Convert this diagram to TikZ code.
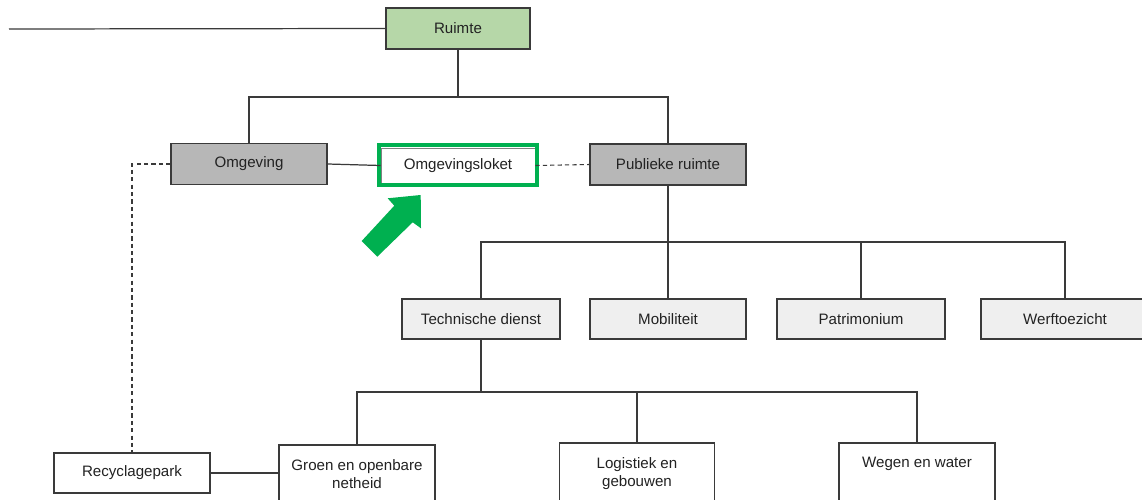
\documentclass[tikz,border=0pt]{standalone}
\usepackage{fontspec}
\setmainfont{Liberation Sans}
\definecolor{lineC}{HTML}{3A3A3A}
\definecolor{greenF}{HTML}{B6D7A8}
\definecolor{grayF}{HTML}{B7B7B7}
\definecolor{lightF}{HTML}{EFEFEF}
\definecolor{hiGreen}{HTML}{00B050}
\definecolor{txtC}{HTML}{222222}
\begin{document}
\begin{tikzpicture}[x=0.02cm,y=-0.02cm,
  box/.style={draw=lineC,line width=0.7pt,rectangle,inner sep=0pt,
    minimum width=156*0.02cm,minimum height=41*0.02cm,
    font=\fontsize{8.6}{10.2}\selectfont,text=txtC,align=center},
  lbl/.style={inner sep=0pt,font=\fontsize{8.6}{10.2}\selectfont,text=txtC,align=center},
  conn/.style={draw=lineC,line width=0.7pt},
  dconn/.style={draw=lineC,line width=0.6pt,dash pattern=on 2.4pt off 1.8pt}]
\useasboundingbox (0,0) rectangle (1142,500);
\clip (0,0) rectangle (1142,500);
\fill[white] (0,0) rectangle (1142,500);
% nodes
\node[box,fill=greenF,minimum width=144*0.02cm] (ruimte) at (458,28.5) {Ruimte};
\node[box,fill=grayF] (omgeving) at (249,164) {Omgeving};
\node[box,fill=white,draw=gray,line width=0.5pt,minimum width=154*0.02cm,minimum height=35*0.02cm] (loket) at (458,165.5) {Omgevingsloket};
\node[box,fill=grayF] (publieke) at (668,164.5) {Publieke ruimte};
\node[box,fill=lightF,minimum width=158*0.02cm,minimum height=40*0.02cm] (technische) at (481,319) {Technische dienst};
\node[box,fill=lightF,minimum height=40*0.02cm] (mobiliteit) at (668,319) {Mobiliteit};
\node[box,fill=lightF,minimum width=168*0.02cm,minimum height=40*0.02cm] (patrimonium) at (861,319) {Patrimonium};
\node[box,fill=lightF,minimum width=168*0.02cm,minimum height=40*0.02cm] (werf) at (1065,319) {Werftoezicht};
\node[box,fill=white,minimum height=75*0.02cm] (groen) at (357,482.5) {};
\node[lbl] (groenT) at (357,474) {Groen en openbare\\netheid};
\node[box,fill=white,minimum width=155*0.02cm,minimum height=77*0.02cm] (logistiek) at (637,481.5) {};
\node[lbl] (logistiekT) at (637,473.5) {Logistiek en\\gebouwen};
\node[box,fill=white,minimum height=77*0.02cm] (wegen) at (917,481.5) {};
\node[lbl] (wegenT) at (917,464) {Wegen en water};
\node[box,fill=white,minimum height=40*0.02cm] (recyclage) at (132,473) {Recyclagepark};
% highlight
\draw[hiGreen,line width=2.3pt] (379,145.3) rectangle (537,185.3);
% connectors
\coordinate (lineend) at (9,29);
\coordinate (b1) at (458,97);
\coordinate (b2) at (668,242);
\coordinate (b3) at (481,392);
\draw[conn] (lineend) -- (ruimte.west);
\draw[conn] (ruimte.south) -- (b1);
\draw[conn] (omgeving.north) |- (b1) -| (publieke.north);
\draw[conn] (omgeving.east) -- (loket.west);
\draw[dconn] (loket.east) -- (publieke.west);
\draw[dconn] (omgeving.west) -| (recyclage.north);
\draw[conn] (publieke.south) -- (mobiliteit.north);
\draw[conn] (technische.north) |- (b2) -| (werf.north);
\draw[conn] (patrimonium.north) -- (patrimonium.north |- b2);
\draw[conn] (technische.south) -- (b3);
\draw[conn] (groen.north) |- (b3) -| (wegen.north);
\draw[conn] (logistiek.north) -- (logistiek.north |- b3);
\draw[conn] (recyclage.east) -- (recyclage.east -| groen.west);
% green arrow
\fill[hiGreen] (361.7,241) -- (394.3,205.7) -- (387.7,198.3) -- (420.7,195)
  -- (421,228.3) -- (412.7,222.3) -- (377.3,256.7) -- cycle;
\end{tikzpicture}
\end{document}
